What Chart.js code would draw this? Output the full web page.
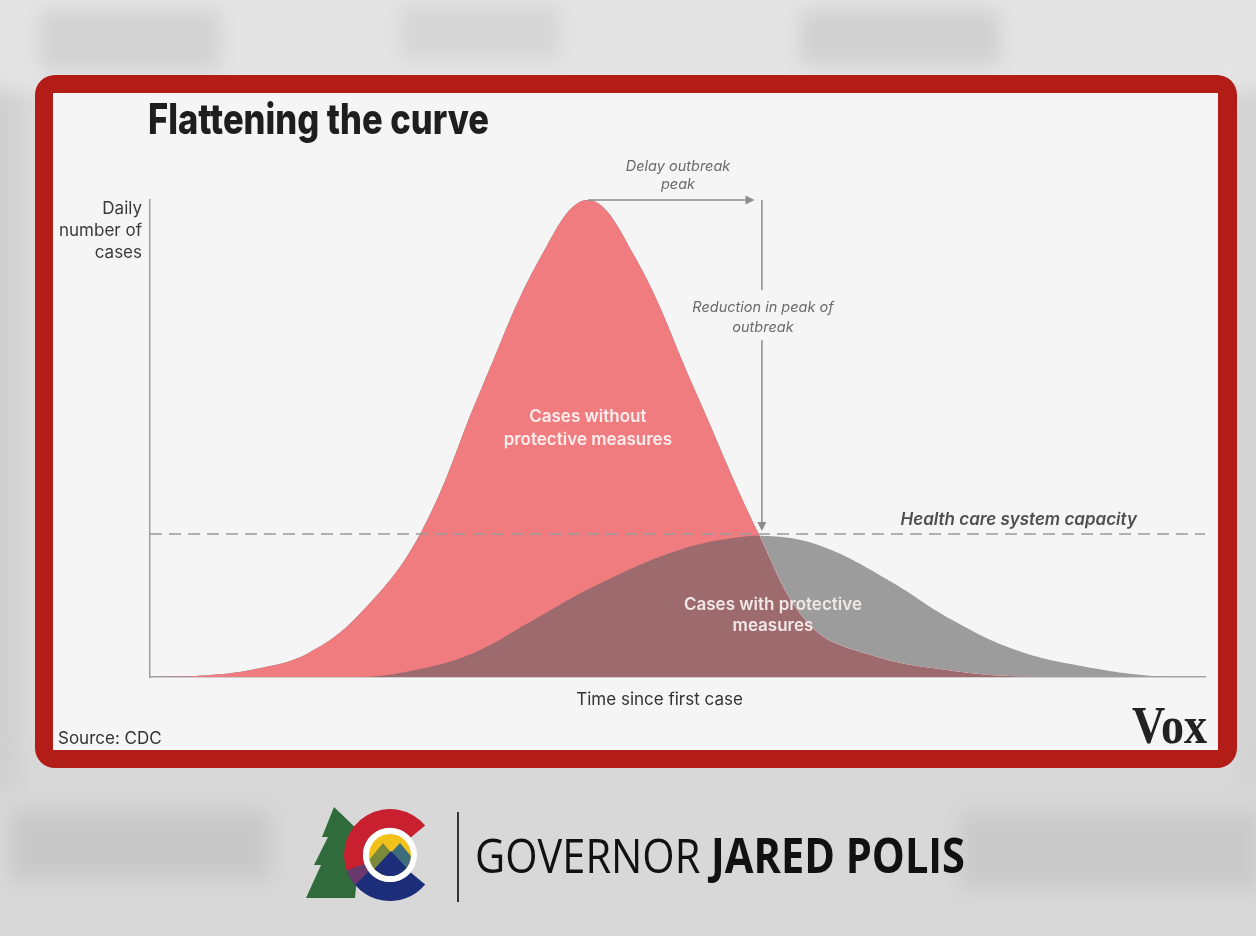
<!DOCTYPE html>
<html>
<head>
<meta charset="utf-8">
<script src="https://cdn.jsdelivr.net/npm/chart.js@4.4.1/dist/chart.umd.min.js"></script>
<style>
  html, body { margin: 0; padding: 0; }
  body { width: 1256px; height: 936px; position: relative; overflow: hidden; background: #dadada; }
  #bg { position: absolute; left: -20px; top: -20px; width: 1296px; height: 976px; filter: blur(10px); }
  #bg div { position: absolute; }
  .frame { position: absolute; left: 35px; top: 75px; width: 1202px; height: 693px; background: #b21d17; border-radius: 20px; }
  .panel { position: absolute; left: 53px; top: 93px; width: 1165px; height: 657px; background: #f5f5f5; }
  .sep { position: absolute; left: 457px; top: 812px; width: 2px; height: 90px; background: #333; }
  #logo { position: absolute; left: 303px; top: 798px; }
  canvas { position: absolute; left: 0; top: 0; }
</style>
</head>
<body>
<div id="bg">
  <div style="left:0;top:0;width:1296px;height:110px;background:#e4e4e4"></div>
  <div style="left:60px;top:30px;width:180px;height:60px;background:#d2d2d2"></div>
  <div style="left:420px;top:25px;width:160px;height:55px;background:#d6d6d6"></div>
  <div style="left:820px;top:30px;width:200px;height:55px;background:#d0d0d0"></div>
  <div style="left:0;top:780px;width:1296px;height:196px;background:#d8d8d8"></div>
  <div style="left:30px;top:830px;width:260px;height:70px;background:#c8c8c8"></div>
  <div style="left:980px;top:830px;width:300px;height:80px;background:#cacaca"></div>
  <div style="left:0;top:110px;width:40px;height:700px;background:#cfcfcf"></div>
  <div style="left:1256px;top:110px;width:40px;height:700px;background:#d3d3d3"></div>
</div>
<div class="frame"></div>
<div class="panel"></div>
<svg id="logo" width="140" height="112" viewBox="0 0 140 110">
  <polygon points="31,8 19,38 25,38 11,66 18,66 3,99 52,99 58,34" fill="#2f6b3b"/>
  <path d="M122.2,26.4 A46,46 0 0 0 43.8,71.7 L61.6,65.2 A27,27 0 0 1 107.7,38.6 Z" fill="#c8202f"/>
  <path d="M43.8,71.7 A46,46 0 0 0 122.2,85.6 L107.7,73.4 A27,27 0 0 1 61.6,65.2 Z" fill="#1c2d7a"/>
  <path d="M43.8,71.7 A46,46 0 0 0 52,86 L66,72 A27,27 0 0 1 61.6,65.2 Z" fill="#6a3a6e"/>
  <circle cx="87" cy="56" r="27" fill="#ffffff"/>
  <clipPath id="sun"><circle cx="87" cy="56" r="21"/></clipPath>
  <g clip-path="url(#sun)">
    <rect x="60" y="30" width="60" height="60" fill="#f2c21b"/>
    <polygon points="62,66 80,44 92,58 62,80" fill="#7a8a3a"/>
    <polygon points="84,58 97,44 112,62 112,80 84,80" fill="#3d6d7a"/>
    <polygon points="62,80 88,52 112,78 112,90 62,90" fill="#1c2d7a"/>
  </g>
</svg>
<div class="sep"></div>
<canvas id="chart" width="1256" height="936"></canvas>
<script>
// Red curve: cases without protective measures (time 0..100, peak = 100)
const redTime = [0, 5, 10, 15, 20, 25.6, 31.4, 37.1, 41.5, 45.9, 51.6, 57.7, 62.5, 68, 76, 84, 100];
const redCases = [0, 0.3, 1.7, 5.0, 13.5, 30, 60.4, 88.3, 100, 88.3, 60.4, 30, 11, 4.8, 1.3, 0, 0];

// Gray curve: cases with protective measures
const grayTime = [0, 20, 25, 30.6, 36.3, 42, 49.3, 54.5, 59, 63.8, 70, 76, 82, 88, 95, 100];
const grayCases = [0, 0, 1.4, 5.0, 11.9, 18.9, 26, 28.9, 29.5, 27.3, 20.3, 12, 5.7, 2.4, 0.2, 0];

// Health care system capacity
const capacityTime = [0, 100];
const capacityLevel = [30, 30];

const RED = '#f07c80';
const GRAY = '#9c9c9c';
const OVERLAP = '#9d6b6e';

const toPoints = (xs, ys) => xs.map((x, i) => ({ x: x, y: ys[i] }));

// draw text squeezed/stretched to a given width
function fitText(ctx, text, x, y, width) {
    const w = ctx.measureText(text).width;
    ctx.save();
    ctx.translate(x, y);
    ctx.scale(width / w, 1);
    ctx.textAlign = 'left';
    ctx.fillText(text, 0, 0);
    ctx.restore();
}

function arrowHead(ctx, x, y, dir) {
    ctx.beginPath();
    if (dir === 'right') {
        ctx.moveTo(x, y); ctx.lineTo(x - 9, y - 4.5); ctx.lineTo(x - 9, y + 4.5);
    } else {
        ctx.moveTo(x, y); ctx.lineTo(x - 4.5, y - 9); ctx.lineTo(x + 4.5, y - 9);
    }
    ctx.closePath();
    ctx.fill();
}

const annotations = {
    id: 'annotations',
    afterDraw(chart) {
        const ctx = chart.ctx;
        const px = v => chart.scales.x.getPixelForValue(v);
        const py = v => chart.scales.y.getPixelForValue(v);
        ctx.save();

        // arrows
        ctx.strokeStyle = '#8c8c8c';
        ctx.fillStyle = '#8c8c8c';
        ctx.lineWidth = 1.5;
        ctx.beginPath();
        ctx.moveTo(px(41.5), py(100));
        ctx.lineTo(px(57.3) - 8, py(100));
        ctx.moveTo(px(58.0), py(100));
        ctx.lineTo(px(58.0), py(81.1));
        ctx.moveTo(px(58.0), py(70.6));
        ctx.lineTo(px(58.0), py(30.6) - 8);
        ctx.stroke();
        arrowHead(ctx, px(57.3), py(100), 'right');
        arrowHead(ctx, px(58.0), py(30.6), 'down');

        // title
        ctx.fillStyle = '#1e1e1e';
        ctx.font = '800 42px Inter';
        fitText(ctx, 'Flattening the curve', 148, 134, 341);

        // y axis title
        ctx.fillStyle = '#3a3a3a';
        ctx.font = '17px Inter';
        ctx.textAlign = 'right';
        ctx.fillText('Daily', 142, 214);
        ctx.fillText('number of', 142, 236);
        ctx.fillText('cases', 142, 258);

        // x axis title
        ctx.textAlign = 'center';
        ctx.fillStyle = '#333';
        ctx.fillText('Time since first case', px(48.3), 705);

        // arrow notes
        ctx.fillStyle = '#6b6b6b';
        ctx.font = 'italic 14.5px Inter';
        ctx.fillText('Delay outbreak', px(50.05), py(106.1));
        ctx.fillText('peak', px(50.05), py(102.3));
        ctx.fillText('Reduction in peak of', px(58.1), py(76.5));
        ctx.fillText('outbreak', px(58.1), py(72.3));

        // curve labels
        ctx.font = '600 17px Inter';
        ctx.fillStyle = '#fdeeee';
        ctx.fillText('Cases without', px(41.5), py(53.5));
        ctx.fillText('protective measures', px(41.5), py(48.6));
        ctx.fillStyle = '#f1e7e7';
        ctx.fillText('Cases with protective', px(59.05), py(14.0));
        ctx.fillText('measures', px(59.05), py(9.6));

        // capacity label
        ctx.textAlign = 'right';
        ctx.fillStyle = '#4f4f4f';
        ctx.font = 'italic 600 17px Inter';
        ctx.fillText('Health care system capacity', px(93.55), py(31.9));

        // source + Vox
        ctx.textAlign = 'left';
        ctx.fillStyle = '#333';
        ctx.font = '17px Inter';
        ctx.fillText('Source: CDC', 58, 744);
        ctx.fillStyle = '#222';
        ctx.font = 'bold 52px "Liberation Serif"';
        fitText(ctx, 'Vox', 1132, 743, 75);

        // governor banner
        ctx.fillStyle = '#111';
        ctx.font = '48px "Open Sans"';
        const w1 = ctx.measureText('GOVERNOR ').width;
        ctx.font = 'bold 48px "Open Sans"';
        const w2 = ctx.measureText('JARED POLIS').width;
        const s = 490 / (w1 + w2);
        ctx.save();
        ctx.translate(475, 873);
        ctx.scale(s, 1);
        ctx.font = '48px "Open Sans"';
        ctx.fillText('GOVERNOR', 0, 0);
        ctx.font = 'bold 48px "Open Sans"';
        ctx.fillText('JARED POLIS', w1, 0);
        ctx.restore();

        ctx.restore();
    }
};

new Chart(document.getElementById('chart'), {
    type: 'line',
    data: {
        datasets: [{
            label: 'Health care system capacity',
            data: toPoints(capacityTime, capacityLevel),
            borderColor: '#999999',
            borderWidth: 1.5,
            borderDash: [12, 7],
            pointRadius: 0,
            fill: false,
            order: 0
        }, {
            label: 'Cases with protective measures',
            data: toPoints(grayTime, grayCases),
            borderColor: 'transparent',
            borderWidth: 0,
            backgroundColor: GRAY,
            pointRadius: 0,
            tension: 0.4,
            fill: { target: 2, above: GRAY, below: RED },
            order: 1
        }, {
            label: 'Cases without protective measures',
            data: toPoints(redTime, redCases),
            borderColor: 'transparent',
            borderWidth: 0,
            backgroundColor: OVERLAP,
            pointRadius: 0,
            tension: 0.4,
            fill: 'origin',
            order: 2
        }]
    },
    options: {
        responsive: false,
        animation: false,
        layout: { padding: { left: 150, right: 51, top: 200, bottom: 259 } },
        plugins: {
            legend: { display: false },
            tooltip: { enabled: false }
        },
        scales: {
            x: {
                type: 'linear',
                min: 0,
                max: 100,
                ticks: { display: false },
                grid: { display: false, drawTicks: false },
                border: { display: true, color: '#a8a8a8', width: 1.5 }
            },
            y: {
                min: 0,
                max: 100,
                ticks: { display: false },
                grid: { display: false, drawTicks: false },
                border: { display: true, color: '#a0a0a0', width: 1.5 }
            }
        }
    },
    plugins: [annotations]
});
</script>
</body>
</html>
